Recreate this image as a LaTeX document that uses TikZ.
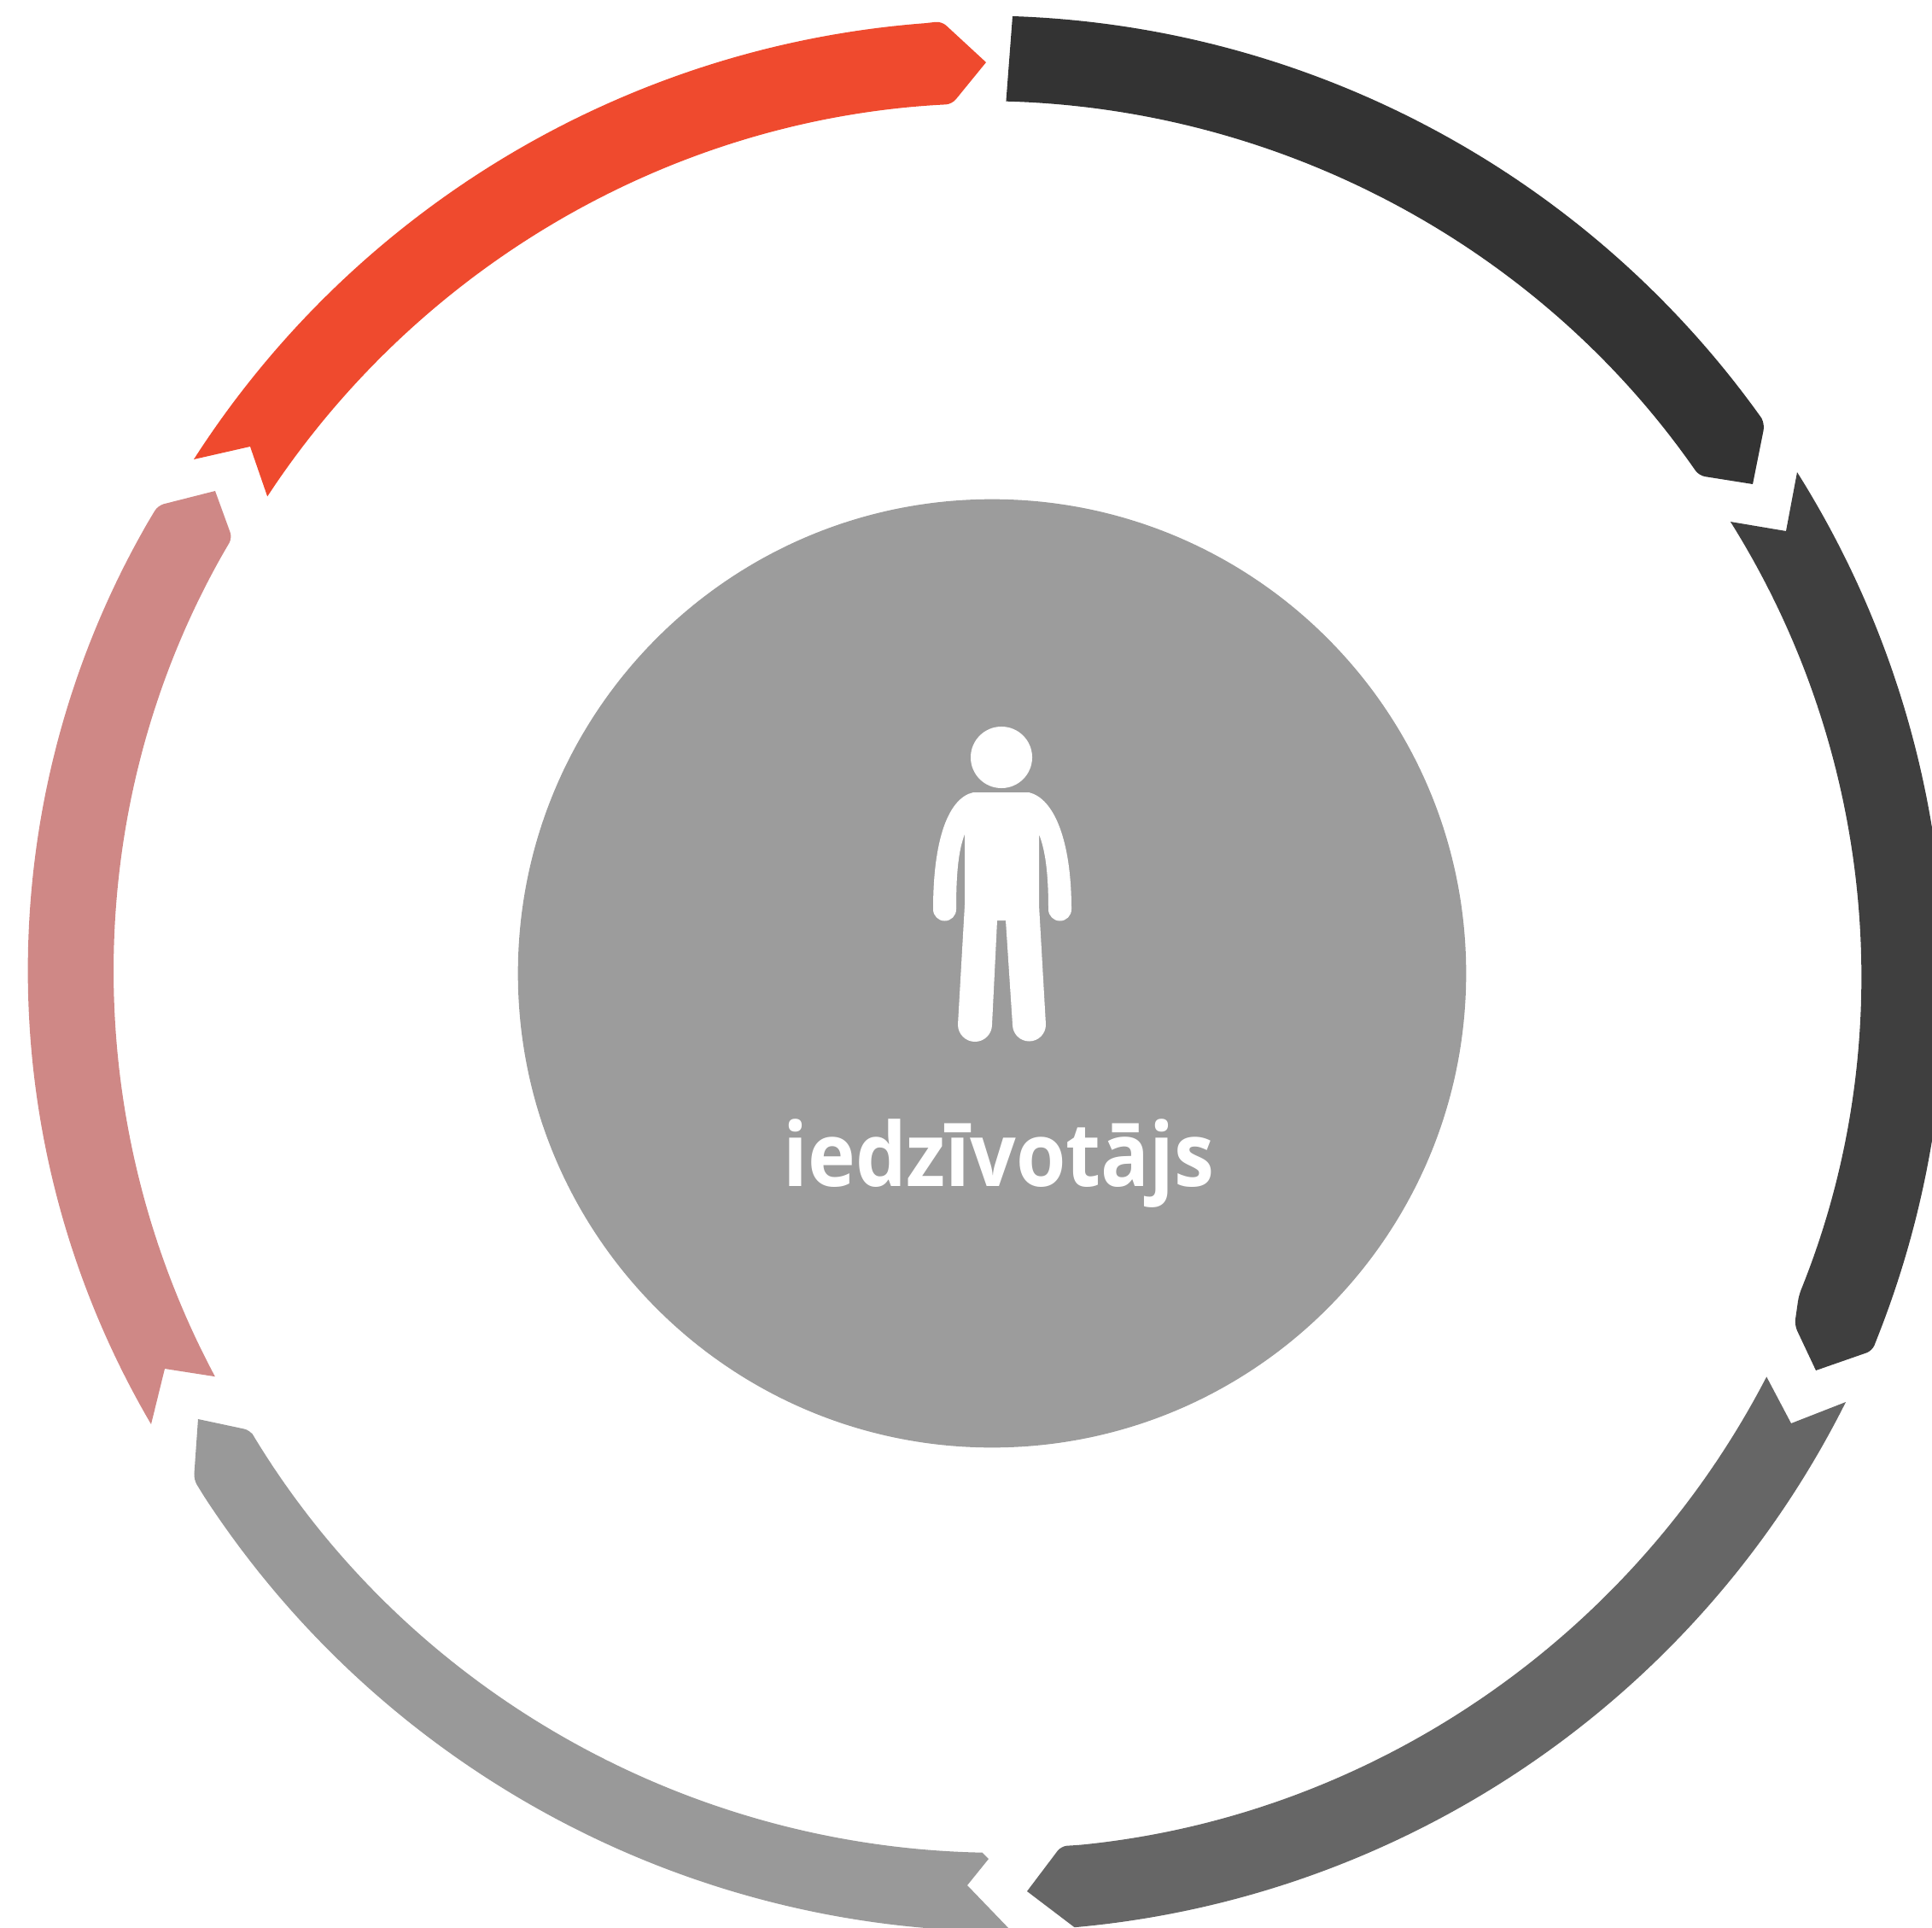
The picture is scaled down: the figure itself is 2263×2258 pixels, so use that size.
\documentclass[tikz,border=0pt]{standalone}
\usepackage{fontspec}
\setmainfont{Open Sans}[FakeStretch=0.91]
\definecolor{ringa}{HTML}{333333}
\definecolor{ringb}{HTML}{3F3F3F}
\definecolor{ringc}{HTML}{666666}
\definecolor{ringd}{HTML}{999999}
\definecolor{ringe}{HTML}{CF8886}
\definecolor{ringf}{HTML}{EF4A2E}
\definecolor{hubgray}{HTML}{9C9C9C}
\tikzset{
    hubdisc/.style={circle,fill=hubgray,inner sep=0pt,minimum size=11.1cm},
    headdisc/.style={circle,fill=white,inner sep=0pt,minimum size=0.72cm},
    hubtext/.style={text=white,anchor=base,inner sep=0pt,font=\bfseries\fontsize{29.5}{36}\selectfont},
    softcorner/.style={rounded corners=2pt},
}
\begin{document}
\begin{tikzpicture}[x=0.01cm,y=-0.01cm]
    \useasboundingbox (0,0) rectangle (2263,2258);
    \clip (0,0) rectangle (2263,2258);
    \fill[ringa] (1186,19) arc[start angle=-88.1,end angle=-35.5,radius=1123]
        [softcorner] -- (2067,497) [sharp corners] -- (2053,567)
        [softcorner] -- (1990,557) [sharp corners]
        arc[start angle=-34.8,end angle=-88.45,radius=1022] -- cycle;
    \fill[ringb] (2105,553) arc[start angle=-32.2,end angle=21.2,radius=1125]
        [softcorner] -- (2193,1582) [sharp corners] -- (2127,1605)
        [softcorner] -- (2102,1552) -- (2107,1517) [sharp corners]
        arc[start angle=22,end angle=-32.1,radius=1000] -- (2092,622) -- cycle;
    \fill[ringc] (2162,1642) arc[start angle=26.6,end angle=84.9,radius=1122]
        -- (1203,2215) [softcorner] -- (1243,2162) -- (1262,2161) [sharp corners]
        arc[start angle=84.2,end angle=27.4,radius=1026] -- (2098,1667) -- cycle;
    \fill[ringd] (1185,2262) arc[start angle=89.7,end angle=146.9,radius=1122]
        [softcorner] -- (227,1733) [sharp corners] -- (232,1662)
        [softcorner] -- (293,1675) -- (299,1685) [sharp corners]
        arc[start angle=148.2,end angle=91.1,radius=1025] -- (1158,2177) -- (1133,2208) -- cycle;
    \fill[ringe] (177,1668) arc[start angle=149.6,end angle=210,radius=1050]
        [softcorner] -- (185,592) [sharp corners] -- (252,575)
        [softcorner] -- (272,630) -- (262,647) [sharp corners]
        arc[start angle=209.3,end angle=151.9,radius=1005] -- (193,1603) -- cycle;
    \fill[ringf] (227,538) arc[start angle=212.7,end angle=265.7,radius=1118]
        [softcorner] -- (1103,25) [sharp corners] -- (1155,73)
        [softcorner] -- (1115,122) -- (1096,123) [sharp corners]
        arc[start angle=266,end angle=213.3,radius=1022] -- (293,523) -- cycle;
    \node[hubdisc] (hub) at (1162,1140) {};
    \node[headdisc] (head) at (1173,887) {};
    \fill[white] (1140,928) -- (1205,928) .. controls (1235,935) and (1255,985) .. (1255,1065)
        arc[start angle=0,end angle=180,radius=13.5]
        .. controls (1228,1020) and (1224,995) .. (1217,977) -- (1217,1060) -- (1225,1200)
        arc[start angle=0,end angle=180,radius=19.5] -- (1178,1078) -- (1168,1078) -- (1162,1200)
        arc[start angle=0,end angle=180,radius=20] -- (1130,1060) -- (1130,977)
        .. controls (1123,995) and (1120,1020) .. (1120,1065)
        arc[start angle=0,end angle=180,radius=13.5]
        .. controls (1093,985) and (1110,935) .. (1140,928) -- cycle;
    \node[hubtext] (caption) at (1170,1389) {iedzīvotājs};
\end{tikzpicture}
\end{document}
